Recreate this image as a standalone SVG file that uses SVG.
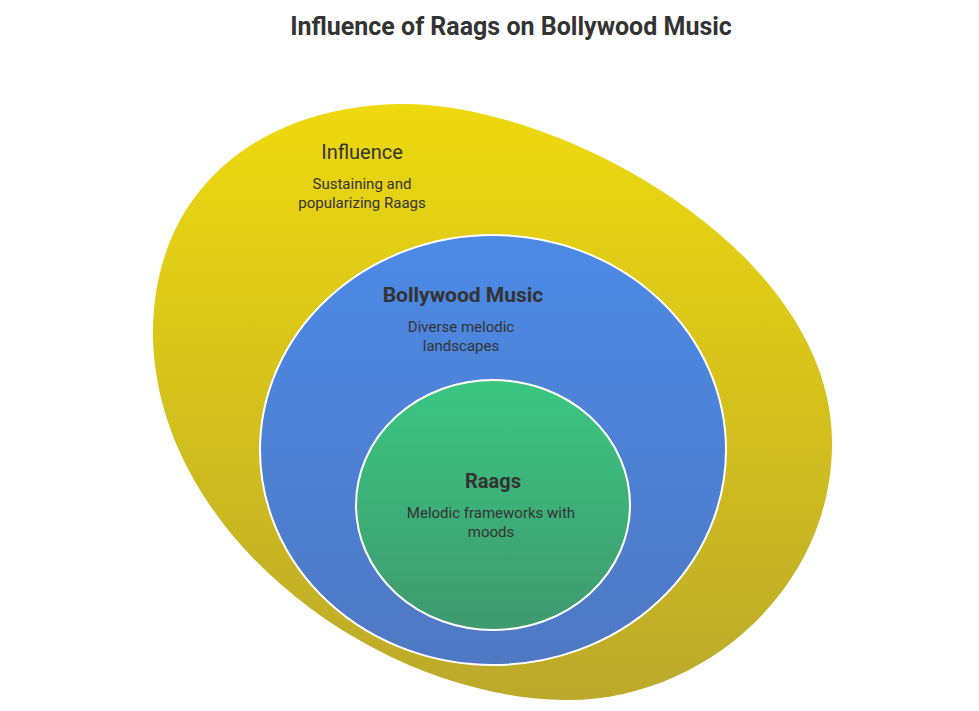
<svg xmlns="http://www.w3.org/2000/svg" width="979" height="711" viewBox="0 0 979 711">
<defs>
<linearGradient id="gY" x1="0" y1="0" x2="0" y2="1"><stop offset="0" stop-color="#EED90E"/><stop offset="1" stop-color="#BBA92B"/></linearGradient>
<linearGradient id="gB" x1="0" y1="0" x2="0" y2="1"><stop offset="0" stop-color="#4C8AE6"/><stop offset="1" stop-color="#4E78C3"/></linearGradient>
<linearGradient id="gG" x1="0" y1="0" x2="0" y2="1"><stop offset="0" stop-color="#3BC681"/><stop offset="1" stop-color="#3F996F"/></linearGradient>
<style>
.t{font-family:Roboto,"Liberation Sans",sans-serif;fill:#333333;text-anchor:middle}
.title{font-size:25px;font-weight:bold}
.h{font-size:20px;font-weight:bold}
.hn{font-size:20px}
.d{font-size:15px}
.shape{stroke:#FFFFFF;stroke-width:2}
</style>
</defs>
<rect width="979" height="711" fill="#FFFFFF"/>
<text class="t title" x="511" y="35">Influence of Raags on Bollywood Music</text>
<g id="influence">
<path d="M400,104 C560,102 830,250 832,440 C834,590 700,702 565,700 C380,698 160,540 153,340 C150,190 260,106 400,104 Z" fill="url(#gY)"/>
<text class="t hn" x="362" y="159">Influence</text>
<text class="t d" x="362" y="189">Sustaining and</text>
<text class="t d" x="362" y="208">popularizing Raags</text>
</g>
<g id="bollywood">
<ellipse class="shape" cx="493" cy="450" rx="233" ry="215" fill="url(#gB)"/>
<text class="t h" x="463" y="302" style="font-size:21px">Bollywood Music</text>
<text class="t d" x="461" y="332">Diverse melodic</text>
<text class="t d" x="461" y="351">landscapes</text>
</g>
<g id="raags">
<ellipse class="shape" cx="493" cy="505" rx="137" ry="125" fill="url(#gG)"/>
<text class="t h" x="493" y="488">Raags</text>
<text class="t d" x="491" y="518">Melodic frameworks with</text>
<text class="t d" x="491" y="537">moods</text>
</g>
<g id="connectors"/>
</svg>
